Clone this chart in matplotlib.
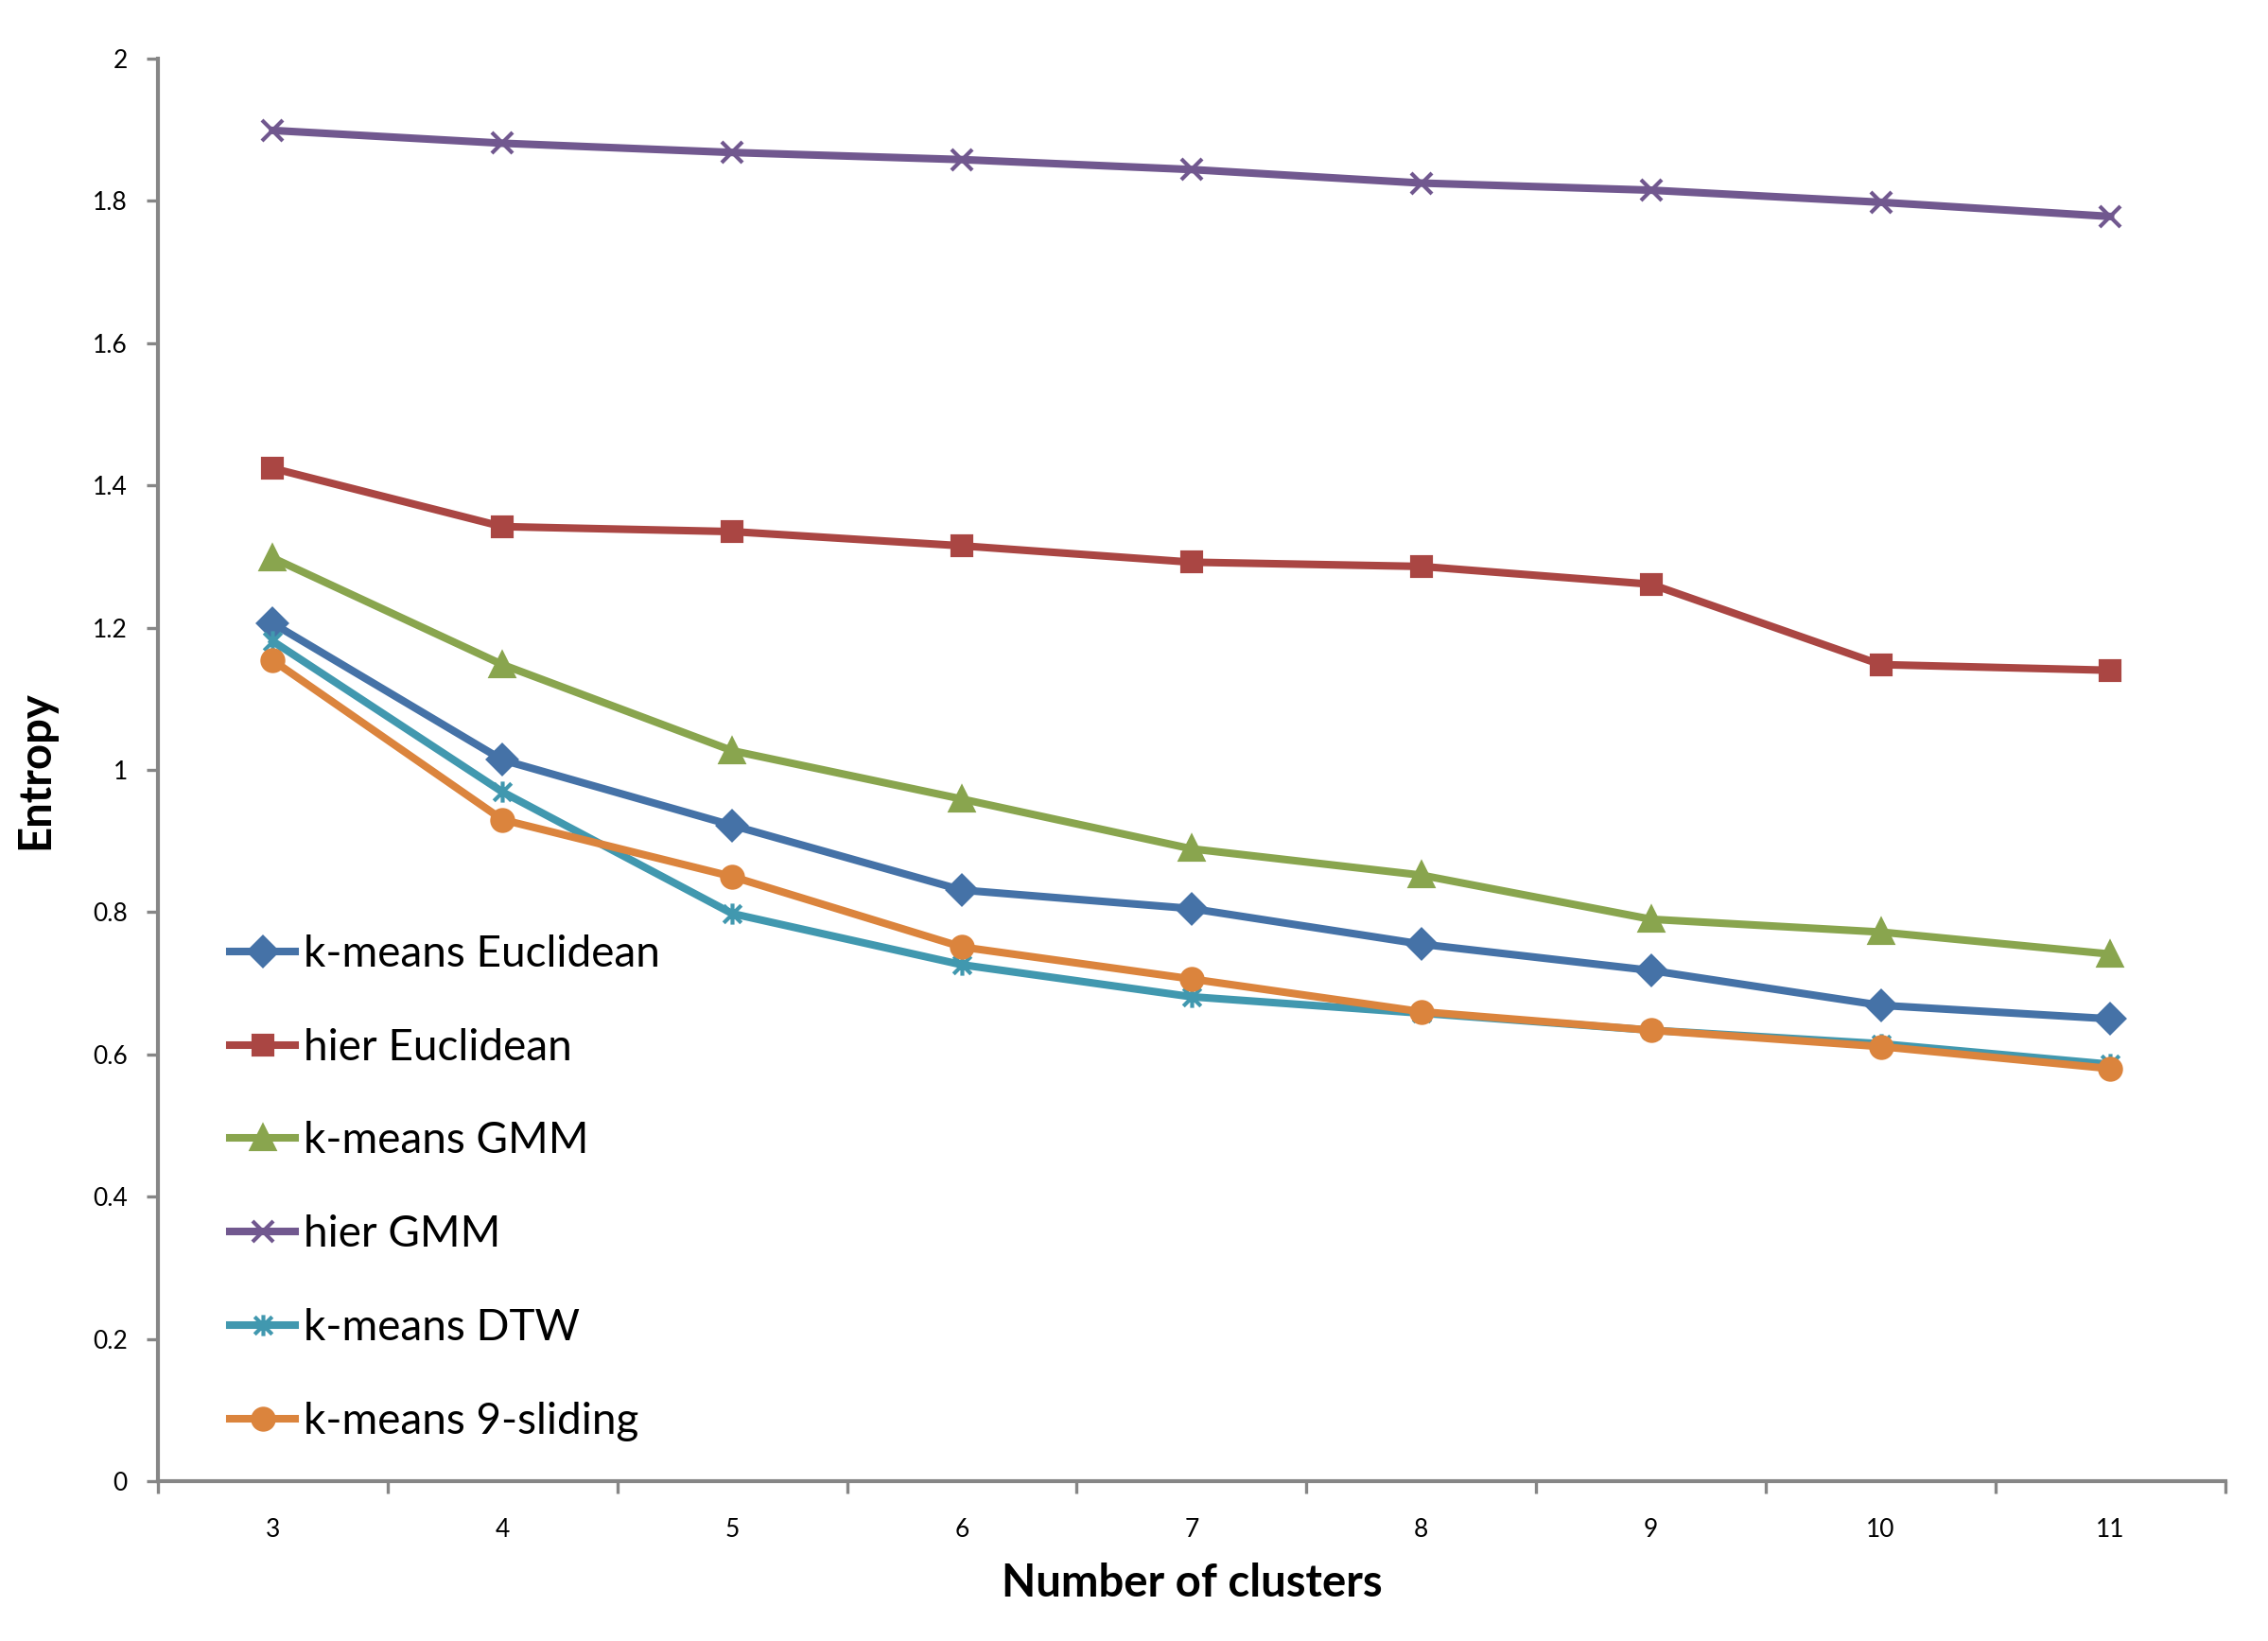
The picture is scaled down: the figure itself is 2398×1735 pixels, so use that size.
import numpy as np
import matplotlib as mpl
import matplotlib.pyplot as plt
import matplotlib.ticker as mtick
from matplotlib.path import Path

mpl.rcParams['font.family'] = ['Lato', 'DejaVu Sans']

clusters = [3, 4, 5, 6, 7, 8, 9, 10, 11]

kmeans_euclid = [1.206, 1.014, 0.922, 0.831, 0.805, 0.755, 0.718, 0.669, 0.650]
hier_euclid = [1.424, 1.342, 1.335, 1.315, 1.292, 1.286, 1.261, 1.148, 1.140]
kmeans_gmm = [1.298, 1.148, 1.027, 0.959, 0.889, 0.852, 0.790, 0.772, 0.741]
hier_gmm = [1.899, 1.881, 1.868, 1.858, 1.844, 1.825, 1.815, 1.798, 1.778]
kmeans_dtw = [1.181, 0.969, 0.798, 0.726, 0.681, 0.658, 0.634, 0.615, 0.586]
kmeans_sliding = [1.154, 0.930, 0.850, 0.751, 0.706, 0.660, 0.634, 0.611, 0.580]

# excel style star: x with a vertical bar
star = Path([(-1, -1), (1, 1), (-1, 1), (1, -1), (0, -1.2), (0, 1.2)],
            [Path.MOVETO, Path.LINETO, Path.MOVETO, Path.LINETO, Path.MOVETO, Path.LINETO])

series = [
    ('k-means Euclidean', kmeans_euclid, '#4572A7', 'D', 7.5),
    ('hier Euclidean', hier_euclid, '#AA4643', 's', 7.5),
    ('k-means GMM', kmeans_gmm, '#89A54E', '^', 8.5),
    ('hier GMM', hier_gmm, '#71588F', 'x', 8),
    ('k-means DTW', kmeans_dtw, '#4198AF', star, 8),
    ('k-means 9-sliding', kmeans_sliding, '#DB843D', 'o', 8),
]

fig, ax = plt.subplots(figsize=(11.99, 8.675), dpi=200)
plt.subplots_adjust(left=0.0696, right=0.9812, top=0.9643, bottom=0.0974)

for label, vals, color, marker, ms in series:
    ax.plot(clusters, vals, color=color, lw=2.9, marker=marker, ms=ms,
            mec=color, mfc=color, mew=1.5, label=label)

ax.set_xlim(2.5, 11.5)
ax.set_ylim(0, 2)
ax.set_yticks(np.arange(0, 2.01, 0.2))
ax.yaxis.set_major_formatter(mtick.FuncFormatter(lambda v, p: '%g' % round(v, 1)))
ax.set_xticks(clusters)
ax.set_xticks(np.arange(2.5, 11.6, 1), minor=True)

for s in ['top', 'right']:
    ax.spines[s].set_visible(False)
for s in ['left', 'bottom']:
    ax.spines[s].set_color('#868686')
    ax.spines[s].set_linewidth(1.5)

ax.tick_params(axis='y', direction='out', length=4.5, width=1.2, color='#868686',
               labelsize=9.5, pad=7)
ax.tick_params(axis='x', which='major', length=0, labelsize=9.5, pad=14)
ax.tick_params(axis='x', which='minor', direction='out', length=4.5, width=1.2,
               color='#868686')

ax.set_xlabel('Number of clusters', fontsize=17, fontweight='bold', labelpad=8)
ax.set_ylabel('Entropy', fontsize=17, fontweight='bold', labelpad=14)

ax.legend(loc='lower left', bbox_to_anchor=(0.035, 0.028), frameon=False,
          fontsize=16.5, labelspacing=1.24, handlelength=1.5, handletextpad=0.2,
          borderpad=0, borderaxespad=0)

fig.savefig('out.png', dpi=200)
